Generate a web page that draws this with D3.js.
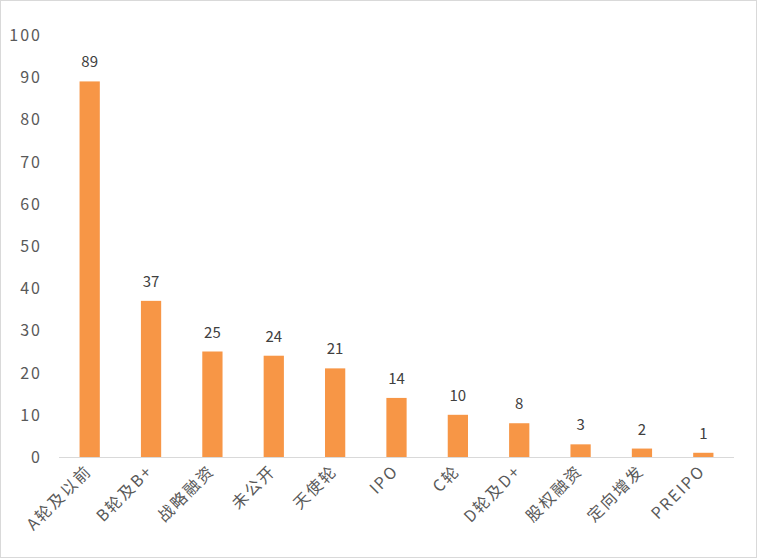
<!DOCTYPE html>
<html><head><meta charset="utf-8">
<script src="https://cdn.jsdelivr.net/npm/d3@7"></script>
<style>body{margin:0;background:#fff}svg{display:block}</style>
</head><body><svg id="chart" width="757" height="558"></svg>
<script>
var categories = ["A轮及以前", "B轮及B+", "战略融资", "未公开", "天使轮", "IPO", "C轮", "D轮及D+", "股权融资", "定向增发", "PREIPO"];
var values = [89, 37, 25, 24, 21, 14, 10, 8, 3, 2, 1];
var yTicks = [0, 10, 20, 30, 40, 50, 60, 70, 80, 90, 100];

var svg = d3.select("#chart");
svg.append("rect").attr("x", 0.5).attr("y", 0.5).attr("width", 756).attr("height", 557)
    .attr("fill", "#fff").attr("stroke", "#d9d9d9");

var x = d3.scaleBand().domain(categories).range([59, 734]).paddingInner(0.67).paddingOuter(0.335);
var y = d3.scaleLinear().domain([0, 100]).range([457, 35]);

var font = "'Microsoft YaHei','Noto Sans CJK SC',sans-serif";

// y axis labels
svg.selectAll(".yt").data(yTicks).enter().append("text")
    .attr("x", 42).attr("y", d => y(d) + 6)
    .attr("text-anchor", "end").attr("font-family", font).attr("font-size", 16)
    .attr("letter-spacing", 2).attr("fill", "#595959").text(d => d);

// baseline
svg.append("line").attr("x1", 59).attr("x2", 734).attr("y1", y(0) + 0.5).attr("y2", y(0) + 0.5)
    .attr("stroke", "#d9d9d9");

svg.selectAll(".bar").data(values).enter().append("rect")
    .attr("x", (d, i) => x(categories[i])).attr("width", x.bandwidth())
    .attr("y", d => y(d)).attr("height", d => y(0) - y(d))
    .attr("fill", "#F79646");

svg.selectAll(".vl").data(values).enter().append("text")
    .attr("x", (d, i) => x(categories[i]) + x.bandwidth() / 2).attr("y", d => y(d) - 14)
    .attr("text-anchor", "middle").attr("font-family", font).attr("font-size", 15)
    .attr("fill", "#404040").text(d => d);

svg.selectAll(".xl").data(categories).enter().append("text")
    .attr("transform", d => "translate(" + (x(d) + x.bandwidth() / 2 + 3) + ",472) rotate(-45)")
    .attr("text-anchor", "end").attr("font-family", font).attr("font-size", 16)
    .attr("letter-spacing", 2).attr("fill", "#595959").text(d => d);
</script></body></html>
